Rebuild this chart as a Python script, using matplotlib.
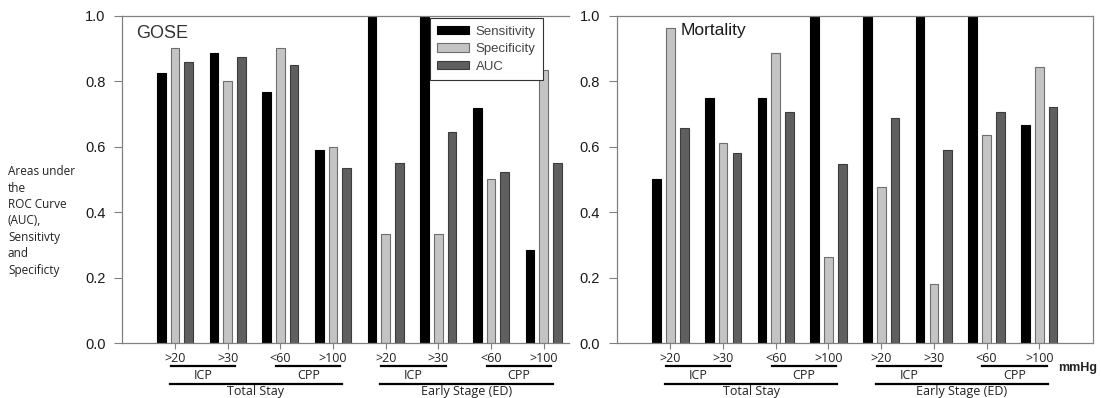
import numpy as np
import matplotlib.pyplot as plt

# thresholds along the x axis
categories = [">20", ">30", "<60", ">100", ">20", ">30", "<60", ">100"]
sub_groups = [("ICP", 0, 1), ("CPP", 2, 3), ("ICP", 4, 5), ("CPP", 6, 7)]
stages = [("Total Stay", 0, 3), ("Early Stage (ED)", 4, 7)]

series = ["Sensitivity", "Specificity", "AUC"]

# GOSE panel
gose_sens = [0.826, 0.885, 0.767, 0.589, 1.0, 1.0, 0.717, 0.286]
gose_spec = [0.900, 0.800, 0.900, 0.600, 0.333, 0.333, 0.500, 0.833]
gose_auc = [0.860, 0.873, 0.849, 0.536, 0.549, 0.644, 0.524, 0.549]

# Mortality panel
mort_sens = [0.500, 0.750, 0.750, 1.0, 1.0, 1.0, 1.0, 0.667]
mort_spec = [0.963, 0.610, 0.887, 0.264, 0.476, 0.180, 0.635, 0.844]
mort_auc = [0.658, 0.580, 0.705, 0.546, 0.687, 0.590, 0.705, 0.722]

face = ["#000000", "#c4c4c4", "#5f5f5f"]
edge = ["#000000", "#6e6e6e", "#3c3c3c"]
spine_col = "#808080"
label_font = ["Open Sans", "DejaVu Sans"]
num_font = ["Liberation Sans", "DejaVu Sans"]

fig = plt.figure(figsize=(11.02, 3.98), dpi=100)
ax1 = fig.add_axes([0.111, 0.1374, 0.4053, 0.8232])
ax2 = fig.add_axes([0.5596, 0.1374, 0.4322, 0.8232])


def draw_panel(ax, sens, spec, auc, xlim, right_spine):
    x = np.arange(len(categories))
    width = 0.165
    off = 0.262
    for i, vals in enumerate([sens, spec, auc]):
        ax.bar(x + (i - 1) * off, vals, width, color=face[i],
               edgecolor=edge[i], linewidth=0.8, label=series[i], zorder=2)
    ax.set_ylim(0, 1.0)
    ax.set_xlim(*xlim)
    ticks = [0.0, 0.2, 0.4, 0.6, 0.8, 1.0]
    ax.set_yticks(ticks)
    ax.set_yticklabels([f"{v:.1f}" for v in ticks],
                       fontsize=10.5, family=num_font, color="#1a1a1a")
    ax.set_xticks(x)
    ax.set_xticklabels(categories, fontsize=9, family=label_font, color="#222222")
    ax.tick_params(axis="y", length=6, width=0.8, color=spine_col, pad=6)
    ax.tick_params(axis="x", length=4, width=0.8, color=spine_col, pad=2)
    for s in ["left", "top", "bottom", "right"]:
        ax.spines[s].set_color(spine_col)
        ax.spines[s].set_linewidth(0.9)
    ax.spines["right"].set_visible(right_spine)

    tr = ax.get_xaxis_transform()
    for name, a, b in sub_groups:
        ax.plot([a - 0.08, b + 0.14], [-0.069, -0.069], color="black", lw=1.6,
                transform=tr, clip_on=False)
        ax.text((a + b) / 2 + 0.03, -0.098, name, transform=tr, ha="center", va="center",
                fontsize=9, family=label_font, color="#222222")
    for name, a, b in stages:
        ax.plot([a - 0.1, b + 0.17], [-0.125, -0.125], color="black", lw=1.6,
                transform=tr, clip_on=False)
        ax.text((a + b) / 2 + 0.035, -0.148, name, transform=tr, ha="center", va="center",
                fontsize=9, family=label_font, color="#222222")


draw_panel(ax1, gose_sens, gose_spec, gose_auc, (-1.0, 7.48), False)
draw_panel(ax2, mort_sens, mort_spec, mort_auc, (-1.02, 8.02), True)

ax1.text(0.03, 0.932, "GOSE", transform=ax1.transAxes, fontsize=13,
         family=num_font, color="#333333", va="baseline")
ax2.text(0.135, 0.941, "Mortality", transform=ax2.transAxes, fontsize=12.5,
         family=num_font, color="#1a1a1a", va="baseline")

leg = ax1.legend(loc="upper left", bbox_to_anchor=(0.689, 0.992), borderaxespad=0,
                 fancybox=False, framealpha=1, edgecolor="#333333",
                 prop={"family": num_font, "size": 9.5},
                 handlelength=2.4, handleheight=0.62, handletextpad=0.5,
                 labelspacing=0.42, borderpad=0.55)
leg.get_frame().set_linewidth(0.8)
leg.set_zorder(5)
for t in leg.get_texts():
    t.set_color("#444444")

fig.text(8 / 1102, 1 - 221 / 398,
         "Areas under\nthe\nROC Curve\n(AUC),\nSensitivty\nand\nSpecificty",
         ha="left", va="center", fontsize=8.5, family=label_font, color="#222222",
         linespacing=1.34)

fig.text(1058 / 1102, 1 - 368 / 398, "mmHg", ha="left", va="center",
         fontsize=9, weight="bold", family=num_font, color="#222222")

fig.savefig("out.png", dpi=100)
